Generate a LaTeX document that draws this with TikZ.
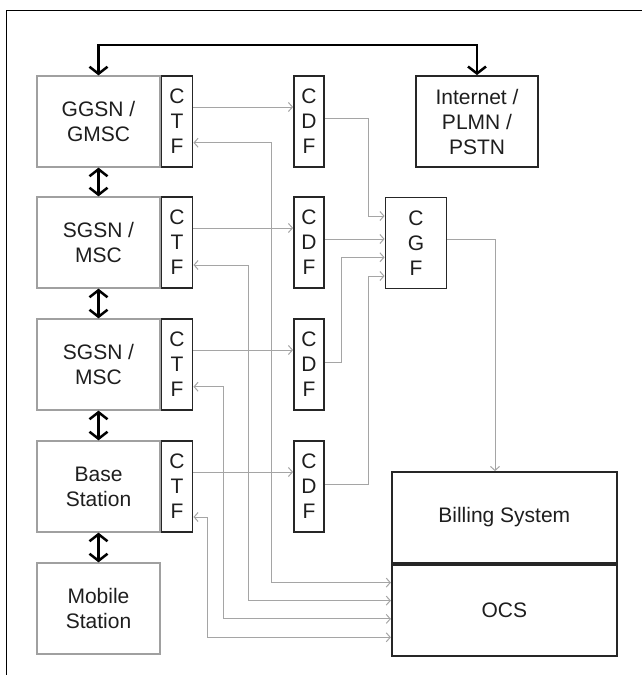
\documentclass[tikz,border=0pt]{standalone}
\usepackage{fontspec}
\setmainfont{Liberation Sans}
\usepackage{tikz}
\usetikzlibrary{arrows.meta,positioning,calc}
\definecolor{linegray}{RGB}{165,165,165}
\definecolor{boxgray}{RGB}{160,160,160}
\definecolor{textdark}{RGB}{30,30,30}

\begin{document}
\begin{tikzpicture}[x=1pt,y=1pt,
  elem/.style={draw=boxgray,line width=1.3pt,align=center,text=textdark,inner sep=0pt,
    font=\fontsize{21}{25}\selectfont,minimum width=123pt,minimum height=91pt},
  fn/.style={elem,draw=black!85,line width=1.8pt},
  letters/.style={fn,minimum width=31pt},
  flow/.style={draw=linegray,line width=1pt,-{Straight Barb[length=4pt,width=9pt]}},
  both/.style={flow,{Straight Barb[length=4pt,width=9pt]}-{Straight Barb[length=4pt,width=9pt]}},
  link/.style={draw=black,line width=2.5pt,{Straight Barb[length=7pt,width=18pt]}-{Straight Barb[length=7pt,width=18pt]}}]
\useasboundingbox (0,0) rectangle (642,-675);
\draw[line width=1pt] (6,-675) -- (6,-10) -- (642,-10);
% network elements
\node[elem] (ggsn) at (98.5,-121.5) {GGSN /\\GMSC};
\node[elem] (sgsn1) at (98.5,-242.5) {SGSN /\\MSC};
\node[elem] (sgsn2) at (98.5,-364.5) {SGSN /\\MSC};
\node[elem] (bs) at (98.5,-486.5) {Base\\Station};
\node[elem] (ms) at (98.5,-608.5) {Mobile\\Station};
\node[letters,right=0pt of ggsn] (ctf1) {C\\T\\F};
\node[letters,right=0pt of sgsn1] (ctf2) {C\\T\\F};
\node[letters,right=0pt of sgsn2] (ctf3) {C\\T\\F};
\node[letters,right=0pt of bs] (ctf4) {C\\T\\F};
\node[letters,minimum width=30pt] (cdf1) at (309,-121.5) {C\\D\\F};
\node[letters,minimum width=30pt] (cdf2) at (309,-242.5) {C\\D\\F};
\node[letters,minimum width=30pt] (cdf3) at (309,-364.5) {C\\D\\F};
\node[letters,minimum width=30pt] (cdf4) at (309,-486.5) {C\\D\\F};
\node[letters,minimum width=61pt] (cgf) at (416,-243) {C\\G\\F};
\node[fn,minimum width=122pt] (inet) at (477,-121.5) {Internet /\\PLMN /\\PSTN};
\node[fn,minimum width=225pt] (bill) at (504.3,-517.5) {Billing System};
\node[fn,minimum width=225pt,below=0pt of bill] (ocs) {OCS};
% user plane
\draw[link] (ggsn.north) -- ++(0,30.5) -| (inet.north);
\draw[link] (ggsn) -- (sgsn1);
\draw[link] (sgsn1) -- (sgsn2);
\draw[link] (sgsn2) -- (bs);
\draw[link] (bs) -- (ms);
% offline charging
\draw[flow] ([yshift=14.5pt]ctf1.east) -- ([yshift=14.5pt]cdf1.west);
\draw[flow] ([yshift=14.5pt]ctf2.east) -- ([yshift=14.5pt]cdf2.west);
\draw[flow] ([yshift=14.5pt]ctf3.east) -- ([yshift=14.5pt]cdf3.west);
\draw[flow] ([yshift=14.5pt]ctf4.east) -- ([yshift=14.5pt]cdf4.west);
\draw[flow] ([yshift=3pt]cdf1.east) -- ++(43.7,0) |- ([yshift=27pt]cgf.west);
\draw[flow] ([yshift=3.5pt]cdf2.east) -- ([yshift=3.5pt]cdf2.east -| cgf.west);
\draw[flow] ([yshift=2.5pt]cdf3.east) -- ++(17,0) |- ([yshift=-14.3pt]cgf.west);
\draw[flow] ([yshift=2.5pt]cdf4.east) -- ++(43.7,0) |- ([yshift=-33pt]cgf.west);
\draw[flow] ([yshift=3.5pt]cgf.east) -| ([xshift=-9.3pt]bill.north);
% online charging
\draw[both] ([yshift=-21.2pt]ctf1.east) -- ++(78.3,0) |- ([yshift=27.7pt]ocs.west);
\draw[both] ([yshift=-22.5pt]ctf2.east) -- ++(54.7,0) |- ([yshift=9.7pt]ocs.west);
\draw[both] ([yshift=-22.2pt]ctf3.east) -- ++(30,0) |- ([yshift=-8.6pt]ocs.west);
\draw[both] ([yshift=-30.5pt]ctf4.east) -- ++(14.5,0) |- ([yshift=-27pt]ocs.west);
\end{tikzpicture}
\end{document}
